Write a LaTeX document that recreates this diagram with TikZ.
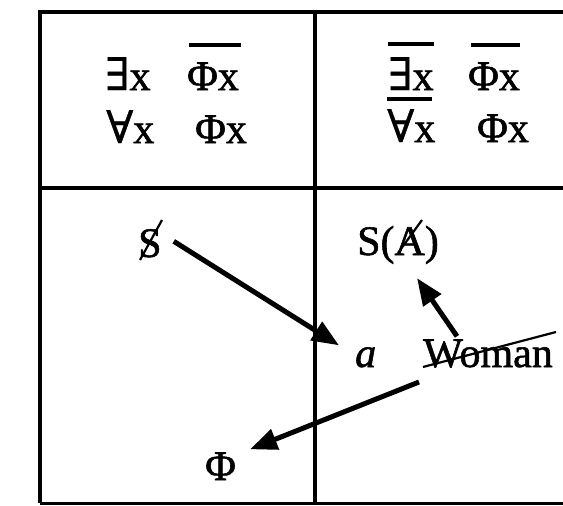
\documentclass[tikz,border=0pt]{standalone}
\usepackage{fontspec}
\setmainfont{Liberation Serif}[FakeBold=1.3]
\newfontfamily\qsym{DejaVu Serif}[FakeBold=0.8]
\usetikzlibrary{arrows.meta,calc}
\begin{document}
\begin{tikzpicture}[x=1pt,y=-1pt,
  frame/.style={line width=4pt},
  txt/.style={anchor=base west,inner sep=0pt,font=\fontsize{42}{50}\selectfont},
  bar/.style={line width=4pt},
  strike/.style={line width=2.2pt},
  arr/.style={line width=5pt,-{Triangle[length=27pt,width=21pt]}}]
\useasboundingbox (0,0) rectangle (563,506);
% frame
\draw[frame] (570,12) -- (40,12) -- (40,503);
\draw[line width=3pt] (40,503) -- (570,503);
\draw[frame] (315,12) -- (315,503);
\draw[frame] (40,188) -- (570,188);
% top-left cell
\node[txt] (ex1) at (105,90) {{\qsym\fontsize{45}{50}\selectfont ∃}x};
\node[txt] (phi1) at (187,90) {Φx};
\node[txt] (all1) at (106,143) {{\qsym\fontsize{45}{50}\selectfont ∀}x};
\node[txt] (phi3) at (195,143) {Φx};
\draw[bar] ([shift={(2,-17)}]phi1.north west) -- ([shift={(2,-17)}]phi1.north east);
% top-right cell
\node[txt] (ex2) at (388,90) {{\qsym\fontsize{45}{50}\selectfont ∃}x};
\node[txt] (phi2) at (468,90) {Φx};
\node[txt] (all2) at (387,142) {{\qsym\fontsize{45}{50}\selectfont ∀}x};
\node[txt] (phi4) at (477,142) {Φx};
\draw[bar] ([shift={(0,-13)}]ex2.north west) -- ([shift={(0,-13)}]ex2.north east);
\draw[bar] ([shift={(3,-17)}]phi2.north west) -- ([shift={(0,-17)}]phi2.north east);
\draw[bar] ([shift={(0,-10)}]all2.north west) -- ([shift={(-4,-10)}]all2.north east);
% bottom-left / bottom-right
\node[txt] (S) at (138,257) {S};
\draw[strike] ($(S.base west)+(2,3)$) -- ($(S.base west)+(24,-37)$);
\node[txt] (SA) at (357,255) {S(A)};
\draw[strike] ($(SA.base west)+(41,-2)$) -- ($(SA.base west)+(65,-35)$);
\node[txt] (a) at (355,367) {\itshape a};
\node[txt] (W) at (423,367) {Woman};
\draw[strike] ($(W.base west)+(0,0)$) -- ($(W.base east)+(3,-35)$);
\node[txt] (Phi) at (205,480) {Φ};
% arrows
\draw[arr] ($(S.east)+(12,-2)$) -- ($(a.west)+(-16,-12)$);
\draw[arr] ($(W.north west)+(34,-3)$) -- ($(SA.south)+(19,14)$);
\draw[arr] ($(W.base west)+(-4,15)$) -- ($(Phi.north east)+(14,-3)$);
\end{tikzpicture}
\end{document}
